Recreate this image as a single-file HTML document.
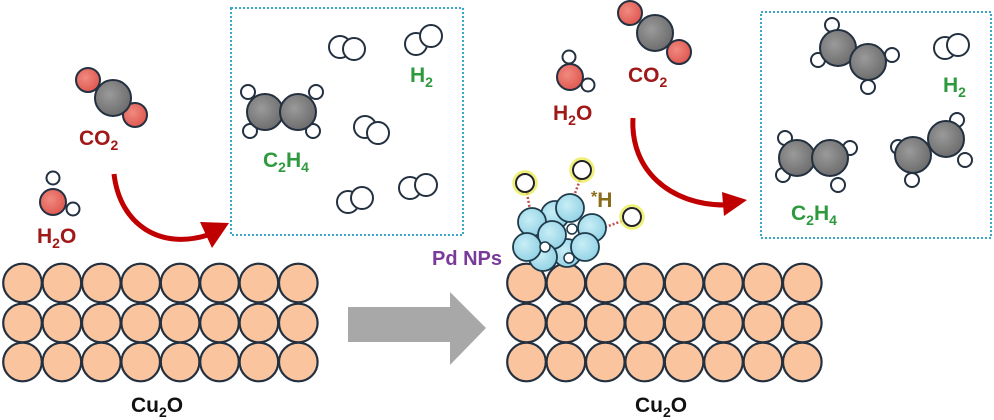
<!DOCTYPE html>
<html><head><meta charset="utf-8"><style>
html,body{margin:0;padding:0;background:#fff;}
svg{display:block;}
text{font-family:"Liberation Sans",sans-serif;font-weight:bold;}
</style></head><body>
<svg width="994" height="420" viewBox="0 0 994 420" xmlns="http://www.w3.org/2000/svg">
<defs>
<radialGradient id="g" cx="0.4" cy="0.4" r="0.6"><stop offset="0" stop-color="#9a9a9a"/><stop offset="1" stop-color="#6e6e6e"/></radialGradient>
<radialGradient id="r" cx="0.4" cy="0.4" r="0.6"><stop offset="0" stop-color="#f08a80"/><stop offset="1" stop-color="#e05a52"/></radialGradient>
<radialGradient id="b" cx="0.4" cy="0.4" r="0.6"><stop offset="0" stop-color="#c8eef6"/><stop offset="1" stop-color="#95d3e6"/></radialGradient>
</defs>
<g stroke="#233040" stroke-width="2.2" fill="#f9c49e">
<g id="lat">
<circle cx="22.5" cy="283" r="19.3"/><circle cx="61.9" cy="283" r="19.3"/><circle cx="101.3" cy="283" r="19.3"/><circle cx="140.7" cy="283" r="19.3"/><circle cx="180.1" cy="283" r="19.3"/><circle cx="219.5" cy="283" r="19.3"/><circle cx="258.9" cy="283" r="19.3"/><circle cx="298.3" cy="283" r="19.3"/>
<circle cx="22.5" cy="323" r="19.3"/><circle cx="61.9" cy="323" r="19.3"/><circle cx="101.3" cy="323" r="19.3"/><circle cx="140.7" cy="323" r="19.3"/><circle cx="180.1" cy="323" r="19.3"/><circle cx="219.5" cy="323" r="19.3"/><circle cx="258.9" cy="323" r="19.3"/><circle cx="298.3" cy="323" r="19.3"/>
<circle cx="22.5" cy="362" r="19.3"/><circle cx="61.9" cy="362" r="19.3"/><circle cx="101.3" cy="362" r="19.3"/><circle cx="140.7" cy="362" r="19.3"/><circle cx="180.1" cy="362" r="19.3"/><circle cx="219.5" cy="362" r="19.3"/><circle cx="258.9" cy="362" r="19.3"/><circle cx="298.3" cy="362" r="19.3"/>
</g>
<use href="#lat" x="504"/>
</g>
<!-- boxes -->
<rect x="231" y="8" width="232" height="227" fill="none" stroke="#3aa6c8" stroke-width="2" stroke-dasharray="2,2"/>
<rect x="761" y="12" width="230" height="226" fill="none" stroke="#3aa6c8" stroke-width="2" stroke-dasharray="2,2"/>
<!-- gray arrow -->
<polygon points="348,307 450,307 450,292 486,328 450,365 450,342 348,342" fill="#a8a8a8"/>
<g stroke="#233040" stroke-width="2">
<!-- left CO2 -->
<circle cx="88" cy="80" r="12" fill="url(#r)"/><circle cx="135" cy="115" r="12" fill="url(#r)"/><circle cx="113" cy="98" r="18" fill="url(#g)"/>
<!-- left H2O -->
<circle cx="53" cy="178" r="6.5" fill="#fff"/><circle cx="73" cy="209" r="6.5" fill="#fff"/><circle cx="53" cy="202" r="13" fill="url(#r)"/>
<!-- left C2H4 -->
<circle cx="248" cy="92" r="7" fill="#fff"/><circle cx="316" cy="92" r="7" fill="#fff"/><circle cx="250" cy="131" r="7" fill="#fff"/><circle cx="313" cy="131" r="7" fill="#fff"/>
<circle cx="265" cy="112" r="18" fill="url(#g)"/><circle cx="298" cy="112" r="18" fill="url(#g)"/>
<!-- H2s left -->
<g fill="#fff">
<circle cx="340" cy="47" r="11"/><circle cx="354" cy="49" r="11"/>
<circle cx="416" cy="44" r="11"/><circle cx="431" cy="36" r="11"/>
<circle cx="365" cy="127" r="11"/><circle cx="378" cy="133" r="11"/>
<circle cx="348" cy="202" r="11"/><circle cx="362" cy="198" r="11"/>
<circle cx="410" cy="188" r="11"/><circle cx="426" cy="185" r="11"/>
<!-- right H2 -->
<circle cx="945" cy="48" r="11"/><circle cx="958" cy="45" r="11"/>
</g>
<!-- right CO2 -->
<circle cx="630" cy="13" r="12" fill="url(#r)"/><circle cx="679" cy="52" r="12" fill="url(#r)"/><circle cx="655" cy="33" r="18" fill="url(#g)"/>
<!-- right H2O -->
<circle cx="569" cy="57" r="6.5" fill="#fff"/><circle cx="588" cy="85" r="6.5" fill="#fff"/><circle cx="570" cy="77" r="13" fill="url(#r)"/>
<!-- right C2H4 x3 -->
<g fill="#fff"><circle cx="832" cy="25" r="7"/><circle cx="818" cy="60" r="7"/><circle cx="892" cy="55" r="7"/><circle cx="868" cy="87" r="7"/></g>
<circle cx="838" cy="48" r="18" fill="url(#g)"/><circle cx="868" cy="62" r="18" fill="url(#g)"/>
<g fill="#fff"><circle cx="785" cy="138" r="7"/><circle cx="783" cy="175" r="7"/><circle cx="850" cy="148" r="7"/><circle cx="838" cy="185" r="7"/></g>
<circle cx="797" cy="158" r="18" fill="url(#g)"/><circle cx="830" cy="158" r="18" fill="url(#g)"/>
<g fill="#fff"><circle cx="898" cy="147" r="7"/><circle cx="957" cy="120" r="7"/><circle cx="965" cy="160" r="7"/><circle cx="912" cy="180" r="7"/></g>
<circle cx="913" cy="155" r="18" fill="url(#g)"/><circle cx="946" cy="139" r="18" fill="url(#g)"/>
</g>
<!-- red arrows -->
<path d="M114,174 C120,225 160,250 208,235" fill="none" stroke="#c00000" stroke-width="5"/>
<polygon points="229,223 200,222 212,248" fill="#c00000"/>
<path d="M633,118 C630,170 670,205 725,205" fill="none" stroke="#c00000" stroke-width="5"/>
<polygon points="747,200 722,192 724,216" fill="#c00000"/>
<!-- Pd cluster -->
<g stroke="#c0504d" stroke-width="2.5" stroke-dasharray="2,2">
<line x1="527" y1="193" x2="530" y2="210"/><line x1="580" y1="180" x2="574" y2="196"/><line x1="622" y1="221" x2="603" y2="228"/>
</g>
<g stroke="#1f3a4a" stroke-width="1.8" fill="url(#b)">
<circle cx="555" cy="215" r="14"/><circle cx="532" cy="222" r="14"/><circle cx="592" cy="228" r="14"/><circle cx="570" cy="208" r="14"/>
<circle cx="567" cy="253" r="14"/><circle cx="585" cy="247" r="14"/><circle cx="552" cy="235" r="14"/><circle cx="543" cy="257" r="14"/><circle cx="527" cy="247" r="14"/>
</g>
<g stroke="#1f3a4a" stroke-width="1.5" fill="#fff">
<circle cx="572" cy="229" r="5"/><circle cx="545" cy="247" r="5"/><circle cx="569" cy="258" r="5"/>
</g>
<g fill="#fff" stroke="#222" stroke-width="2">
<circle cx="525" cy="183" r="9"/><circle cx="582" cy="170" r="9"/><circle cx="632" cy="217" r="9"/>
</g>
<g fill="none" stroke="#ecec50" stroke-width="2.5" opacity="0.8">
<circle cx="525" cy="183" r="11.5"/><circle cx="582" cy="170" r="11.5"/><circle cx="632" cy="217" r="11.5"/>
</g>
<!-- labels -->
<g font-size="21">
<text x="79" y="145" fill="#a01818">CO<tspan font-size="14" dy="5">2</tspan></text>
<text x="37" y="243" fill="#a01818">H<tspan font-size="14" dy="5">2</tspan><tspan dy="-5">O</tspan></text>
<text x="263" y="167" fill="#2e9a3e">C<tspan font-size="14" dy="5">2</tspan><tspan dy="-5">H</tspan><tspan font-size="14" dy="5">4</tspan></text>
<text x="410" y="82" fill="#2e9a3e">H<tspan font-size="14" dy="5">2</tspan></text>
<text x="628" y="82" fill="#a01818">CO<tspan font-size="14" dy="5">2</tspan></text>
<text x="553" y="120" fill="#a01818">H<tspan font-size="14" dy="5">2</tspan><tspan dy="-5">O</tspan></text>
<text x="943" y="92" fill="#2e9a3e">H<tspan font-size="14" dy="5">2</tspan></text>
<text x="791" y="220" fill="#2e9a3e">C<tspan font-size="14" dy="5">2</tspan><tspan dy="-5">H</tspan><tspan font-size="14" dy="5">4</tspan></text>
<text x="591" y="207" fill="#8a6d1a"><tspan font-size="16" dy="-5">*</tspan><tspan dy="5">H</tspan></text>
<text x="432" y="265" fill="#7a3a9a" font-size="20">Pd NPs</text>
<text x="131" y="412" fill="#111">Cu<tspan font-size="14" dy="5">2</tspan><tspan dy="-5">O</tspan></text>
<text x="635" y="412" fill="#111">Cu<tspan font-size="14" dy="5">2</tspan><tspan dy="-5">O</tspan></text>
</g>
</svg>
</body></html>
